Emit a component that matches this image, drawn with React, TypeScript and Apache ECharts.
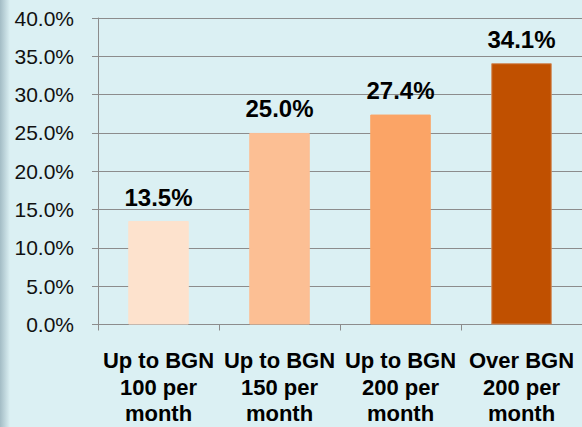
import React, { useEffect, useRef } from "react";
import * as echarts from "echarts";

const categories = ["Up to BGN\n100 per\nmonth", "Up to BGN\n150 per\nmonth", "Up to BGN\n200 per\nmonth", "Over BGN\n200 per\nmonth"];
const values = [13.5, 25.0, 27.4, 34.1];
const barColors = ["#fde2cd", "#fcbf94", "#fba466", "#c05000"];
const yTicks = { min: 0, max: 40, interval: 5 };

export default function App() {
  const ref = useRef<HTMLDivElement>(null);
  useEffect(() => {
    if (!ref.current) return;
    const chart = echarts.init(ref.current, null, { renderer: "svg" });
    chart.setOption({
      animation: false,
      backgroundColor: "#dbf0f3",
      graphic: [
        {
          type: "rect",
          left: 0,
          top: 0,
          shape: { width: 10, height: 427 },
          style: {
            fill: new echarts.graphic.LinearGradient(0, 0, 1, 0, [
              { offset: 0, color: "#a3bcc5" },
              { offset: 1, color: "#dbf0f3" },
            ]),
          },
          silent: true,
        },
      ],
      grid: { left: 98, right: -3, top: 18, bottom: 102, containLabel: false },
      xAxis: {
        type: "category",
        data: categories,
        axisLine: { lineStyle: { color: "#8c8c8c", width: 1 } },
        axisTick: { show: true, length: 6, lineStyle: { color: "#8c8c8c" } },
        axisLabel: {
          interval: 0,
          margin: 23,
          fontFamily: "Liberation Sans, Arial, sans-serif",
          fontWeight: "bold",
          fontSize: 22,
          lineHeight: 26.5,
          color: "#000",
        },
      },
      yAxis: {
        type: "value",
        min: yTicks.min,
        max: yTicks.max,
        interval: yTicks.interval,
        axisLine: { show: true, lineStyle: { color: "#8c8c8c", width: 1 } },
        axisTick: { show: true, length: 6, lineStyle: { color: "#8c8c8c" } },
        splitLine: { show: true, lineStyle: { color: "#8c8c8c", width: 1 } },
        axisLabel: {
          margin: 24,
          formatter: (v: number) => v.toFixed(1) + "%",
          fontFamily: "Liberation Sans, Arial, sans-serif",
          fontSize: 21,
          color: "#111",
        },
      },
      series: [
        {
          type: "bar",
          barWidth: "50%",
          data: values.map((v, i) => ({
            value: v,
            itemStyle: { color: barColors[i], borderColor: i === 3 ? "#d08a5a" : barColors[i], borderWidth: 1 },
          })),
          label: {
            show: true,
            position: "top",
            distance: 12,
            formatter: (p: any) => Number(p.value).toFixed(1) + "%",
            fontFamily: "Liberation Sans, Arial, sans-serif",
            fontWeight: "bold",
            fontSize: 24,
            color: "#000",
          },
        },
      ],
    });
    return () => chart.dispose();
  }, []);
  return <div ref={ref} style={{ position: "fixed", left: 0, top: 0, width: 582, height: 427 }} />;
}
